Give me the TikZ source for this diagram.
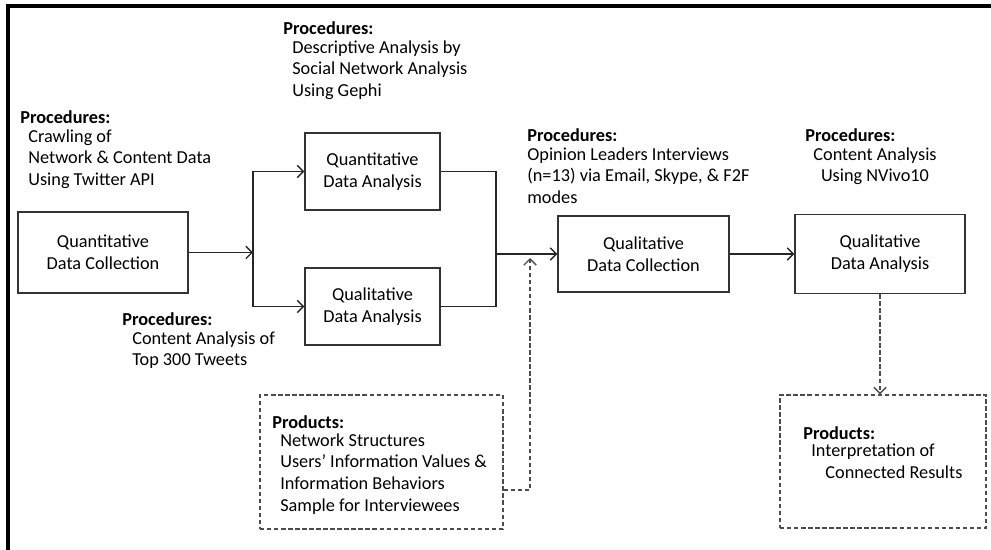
\documentclass[tikz,border=0pt]{standalone}
\usepackage{fontspec}
\setmainfont{Carlito}
\usepackage{tikz}
\usetikzlibrary{arrows.meta}

\tikzset{
  stepbox/.style={draw=black!80,thick,align=center,inner sep=2pt},
  prodbox/.style={draw=black!70,thick,dash pattern=on 2.5pt off 1.5pt},
  txt/.style={anchor=west,align=left,inner sep=0pt},
  flow/.style={black!85,thick,-{Straight Barb[length=3.5pt,width=7pt]}},
  dotflow/.style={black!70,thick,dash pattern=on 2.5pt off 1.5pt,-{Straight Barb[length=3.5pt,width=7pt]}}
}

\begin{document}
\begin{tikzpicture}[x=0.02cm,y=-0.02cm,font=\fontsize{10.4}{12.5}\selectfont]
    \useasboundingbox (0,0) rectangle (991,550);
    \draw[black,line width=1.8pt] (8,550) -- (8,6) -- (991,6);

    % boxes
    \node[stepbox,minimum width=3.4cm,minimum height=1.62cm] (qncoll) at (103,252.5) {Quantitative\\Data Collection};
    \node[stepbox,minimum width=2.7cm,minimum height=1.54cm] (qnana) at (372.5,171.5) {Quantitative\\Data Analysis};
    \node[stepbox,minimum width=2.7cm,minimum height=1.54cm] (qlana) at (372.5,306.5) {Qualitative\\Data Analysis};
    \node[stepbox,minimum width=3.42cm,minimum height=1.52cm] (qlcoll) at (643.5,254) {Qualitative\\Data Collection};
    \node[stepbox,minimum width=3.4cm,minimum height=1.58cm] (qlfin) at (880,254) {Qualitative\\Data Analysis};
    \node[prodbox,minimum width=4.86cm,minimum height=2.68cm] (prodA) at (381.5,462) {};
    \node[prodbox,minimum width=4.12cm,minimum height=2.66cm] (prodB) at (883,461.5) {};

    % procedures
    \node[txt] (procA) at (20,117) {\textbf{Procedures:}};
    \node[txt,anchor=north west] (procAtxt) at (28,129) {Crawling of\\Network \& Content Data\\Using Twitter API};
    \node[txt] (procB) at (283,28) {\textbf{Procedures:}};
    \node[txt,anchor=north west] (procBtxt) at (292,40) {Descriptive Analysis by\\Social Network Analysis\\Using Gephi};
    \node[txt] (procC) at (122,319) {\textbf{Procedures:}};
    \node[txt,anchor=north west] (procCtxt) at (132,331) {Content Analysis of\\Top 300 Tweets};
    \node[txt] (procD) at (527,135) {\textbf{Procedures:}};
    \node[txt,anchor=north west] (procDtxt) at (527,147) {Opinion Leaders Interviews\\(n=13) via Email, Skype, \& F2F\\modes};
    \node[txt] (procE) at (805,135) {\textbf{Procedures:}};
    \node[inner sep=0pt,align=center,anchor=north] (procEtxt) at (875,147) {Content Analysis\\Using NVivo10};

    % products
    \node[txt] (prodAhd) at (272,422) {\textbf{Products:}};
    \node[txt,anchor=north west] (prodAtxt) at (280,433) {Network Structures\\Users’ Information Values \&\\Information Behaviors\\Sample for Interviewees};
    \node[txt] (prodBhd) at (803,433) {\textbf{Products:}};
    \node[txt,anchor=north west] (prodBtxt) at (811,444) {Interpretation of\\\hspace*{8pt}Connected Results};

    % connectors
    \coordinate (split) at (253,252.5);
    \coordinate (join) at (496,254);
    \coordinate (up) at (530,258);
    \draw[flow] (qncoll.east) -- (split);
    \draw[flow] (split) |- (qnana.west);
    \draw[flow] (split) |- (qlana.west);
    \draw[black!85,thick] (qnana.east) -| (join);
    \draw[black!85,thick] (qlana.east) -| (join);
    \draw[flow] (join) -- (qlcoll.west);
    \draw[dotflow] (prodA.east |- 0,490) -| (up);
    \draw[flow] (qlcoll.east) -- (qlfin.west);
    \draw[dotflow] (qlfin.south) -- (qlfin.south |- prodB.north);
\end{tikzpicture}
\end{document}
